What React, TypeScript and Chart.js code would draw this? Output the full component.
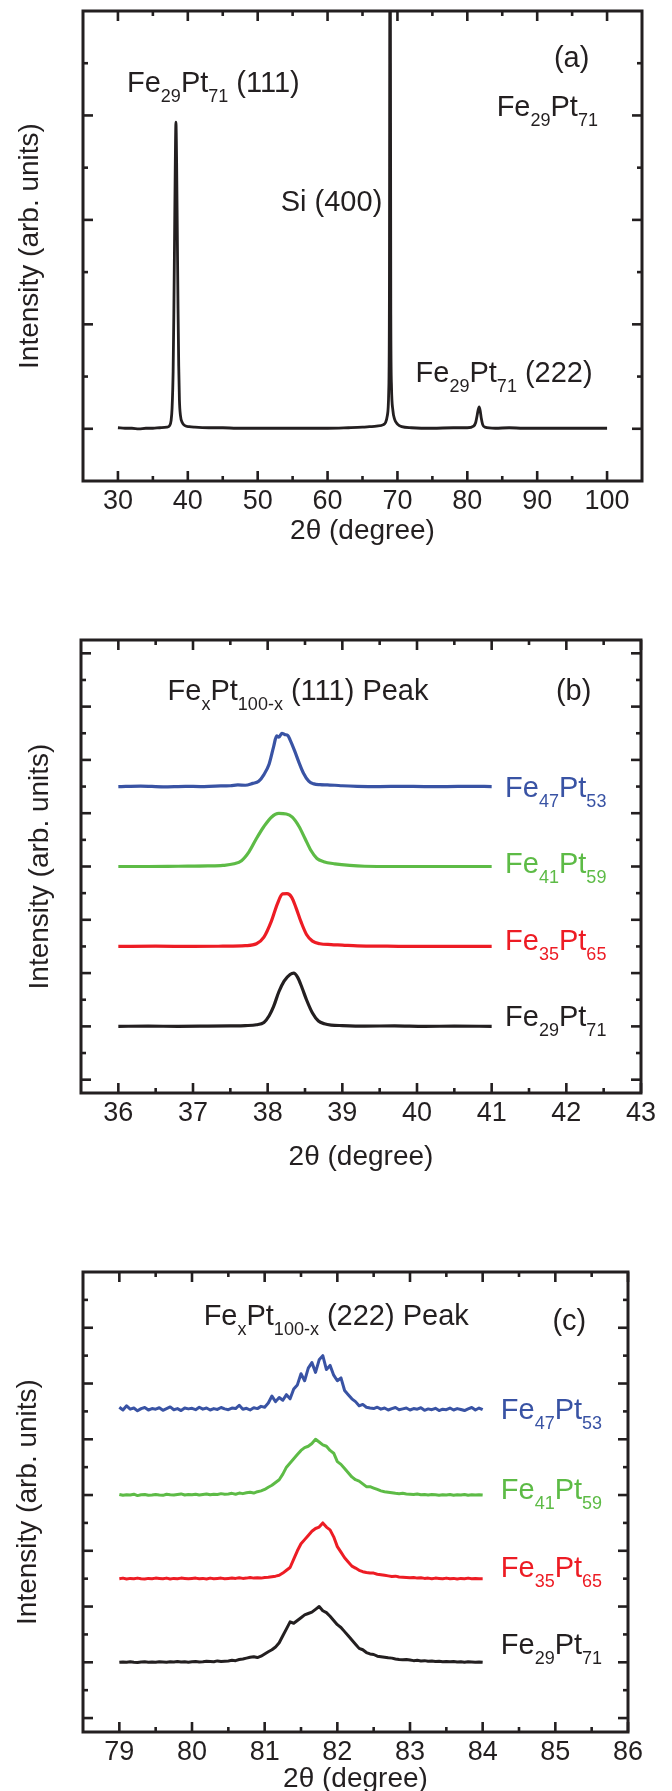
import React, { useEffect, useRef } from "react";
import { Chart, registerables } from "chart.js";

Chart.register(...registerables);

const FONT = "'Liberation Sans', Arial, Helvetica, sans-serif";
const INK = "#231f20";
const BLUE = "#3953a4";
const GREEN = "#5dbb46";
const RED = "#ed1c24";
const BLACK = "#231f20";

// ---------- Panel (a): full scan of Fe29Pt71 ----------
const scanA: [number, number][] = [
  [30, 0.02], [31, 0.01], [32, 0.01], [33, 0.0], [34, 0.01], [35, 0.01], [36, 0.02], [37, 0.03],
  [37.4, 0.06], [37.6, 0.15], [37.75, 0.4], [37.9, 1.1], [38.0, 2.2], [38.1, 3.6], [38.2, 5.0],
  [38.3, 5.87], [38.4, 5.1], [38.5, 3.7], [38.6, 2.3], [38.7, 1.2], [38.8, 0.55], [38.95, 0.25],
  [39.2, 0.12], [39.6, 0.06], [40.2, 0.04], [41, 0.03], [43, 0.02], [45, 0.02], [47, 0.01],
  [50, 0.01], [55, 0.01], [60, 0.01], [63, 0.02], [65, 0.03], [66, 0.04], [67, 0.05], [68, 0.08],
  [68.3, 0.12], [68.55, 0.25], [68.75, 0.7], [68.85, 2.5], [68.95, 12], [69.05, 2.2], [69.15, 0.8],
  [69.35, 0.35], [69.6, 0.18], [70, 0.09], [70.6, 0.04], [72, 0.02], [75, 0.01], [78, 0.02],
  [80, 0.02], [80.9, 0.05], [81.2, 0.12], [81.4, 0.25], [81.55, 0.36], [81.7, 0.42], [81.85, 0.34],
  [82.0, 0.2], [82.2, 0.08], [82.5, 0.03], [84, 0.01], [86, 0.02], [88, 0.01], [90, 0.01],
  [93, 0.01], [96, 0.01], [100, 0.01],
];

// ---------- Panel (b): (111) peak ----------
const peak111Fe47: [number, number][] = [
  [36.0, 11.0], [36.3, 11.02], [36.6, 10.99], [36.9, 11.01], [37.1, 11.0], [37.3, 11.02], [37.5, 11.03],
  [37.6, 11.06], [37.7, 11.05], [37.8, 11.12], [37.88, 11.2], [37.95, 11.45], [38.02, 11.85],
  [38.08, 12.5], [38.12, 12.9], [38.15, 12.85], [38.19, 13.0], [38.23, 12.95], [38.27, 12.92],
  [38.3, 12.75], [38.36, 12.35], [38.42, 11.9], [38.48, 11.5], [38.55, 11.2], [38.62, 11.1],
  [38.7, 11.07], [38.8, 11.06], [38.9, 11.05], [39.0, 11.03], [39.2, 11.01], [39.5, 11.0],
  [39.8, 11.01], [40.1, 11.0], [40.4, 11.0], [40.7, 11.01], [41.0, 11.0],
];
const peak111Fe41: [number, number][] = [
  [36.0, 8.0], [36.4, 8.0], [36.8, 8.01], [37.2, 8.02], [37.4, 8.04], [37.55, 8.1], [37.65, 8.22],
  [37.75, 8.55], [37.85, 9.05], [37.95, 9.5], [38.05, 9.85], [38.15, 9.99], [38.25, 9.97],
  [38.33, 9.85], [38.42, 9.5], [38.5, 9.05], [38.58, 8.6], [38.66, 8.3], [38.75, 8.18],
  [38.9, 8.1], [39.1, 8.04], [39.3, 8.01], [39.7, 8.0], [40.2, 8.0], [40.6, 8.0], [41.0, 8.0],
];
const peak111Fe35: [number, number][] = [
  [36.0, 5.0], [36.5, 5.01], [37.0, 5.0], [37.4, 5.01], [37.7, 5.03], [37.85, 5.1], [37.95, 5.35],
  [38.05, 5.95], [38.13, 6.6], [38.2, 6.97], [38.26, 6.98], [38.32, 6.85], [38.38, 6.45],
  [38.45, 5.9], [38.52, 5.45], [38.6, 5.2], [38.7, 5.1], [38.85, 5.07], [39.0, 5.05], [39.2, 5.02],
  [39.6, 5.01], [40.0, 5.0], [40.5, 5.0], [41.0, 5.0],
];
const peak111Fe29: [number, number][] = [
  [36.0, 2.0], [36.4, 2.01], [36.8, 2.0], [37.2, 2.01], [37.5, 2.02], [37.7, 2.03], [37.85, 2.06],
  [37.95, 2.15], [38.02, 2.4], [38.08, 2.75], [38.15, 3.3], [38.22, 3.7], [38.3, 3.95], [38.35, 4.0],
  [38.4, 3.85], [38.46, 3.45], [38.52, 3.0], [38.6, 2.5], [38.68, 2.2], [38.76, 2.1], [38.85, 2.05],
  [39.0, 2.03], [39.3, 2.01], [39.7, 2.02], [40.1, 2.0], [40.5, 2.01], [41.0, 2.0],
];

// ---------- Panel (c): (222) peak ----------
const thetaC = [
  79, 79.05, 79.1, 79.15, 79.2, 79.25, 79.3, 79.35, 79.4, 79.45,
  79.5, 79.55, 79.6, 79.65, 79.7, 79.75, 79.8, 79.85, 79.9, 79.95,
  80, 80.05, 80.1, 80.15, 80.2, 80.25, 80.3, 80.35, 80.4, 80.45,
  80.5, 80.55, 80.6, 80.65, 80.7, 80.75, 80.8, 80.85, 80.9, 80.95,
  81, 81.05, 81.1, 81.15, 81.2, 81.25, 81.3, 81.35, 81.4, 81.45,
  81.5, 81.55, 81.6, 81.65, 81.7, 81.75, 81.8, 81.85, 81.9, 81.95,
  82, 82.05, 82.1, 82.15, 82.2, 82.25, 82.3, 82.35, 82.4, 82.45,
  82.5, 82.55, 82.6, 82.65, 82.7, 82.75, 82.8, 82.85, 82.9, 82.95,
  83, 83.05, 83.1, 83.15, 83.2, 83.25, 83.3, 83.35, 83.4, 83.45,
  83.5, 83.55, 83.6, 83.65, 83.7, 83.75, 83.8, 83.85, 83.9, 83.95,
  84,
];
const peak222Fe47 = [
  11.15, 11.05, 11.2, 11.08, 11.12, 11.02, 11.1, 11.14, 11.05, 11.1,
  11.08, 11.13, 11.04, 11.1, 11.16, 11.06, 11.1, 11.03, 11.12, 11.09,
  11.11, 11.06, 11.15, 11.08, 11.12, 11.05, 11.1, 11.07, 11.14, 11.09,
  11.06, 11.12, 11.1, 11.22, 11.08, 11.11, 11.05, 11.13, 11.1, 11.18,
  11.15, 11.3, 11.55, 11.35, 11.5, 11.4, 11.6, 11.45, 11.8, 11.95,
  12.35, 12.1, 12.55, 12.75, 12.4, 12.85, 13.0, 12.5, 12.65, 12.3,
  12.1, 12.2, 11.75, 11.6, 11.45, 11.35, 11.2, 11.25, 11.15, 11.12,
  11.1, 11.15, 11.08, 11.12, 11.05, 11.1, 11.14, 11.06, 11.09, 11.12,
  11.05, 11.1, 11.08, 11.13, 11.04, 11.09, 11.06, 11.11, 11.03, 11.08,
  11.06, 11.12, 11.05, 11.1, 11.07, 11.03, 11.09, 11.14, 11.05, 11.12,
  11.06,
];
const peak222Fe41 = [
  8.02, 7.99, 8.01, 8.0, 8.03, 7.98, 8.01, 8.02, 7.99, 8.0,
  8.02, 8.0, 7.99, 8.03, 8.01, 8.0, 8.02, 8.04, 8.0, 8.02,
  8.01, 8.03, 8.0, 8.02, 8.04, 8.01, 8.03, 8.02, 8.05, 8.03,
  8.04, 8.06, 8.03, 8.07, 8.05, 8.08, 8.1, 8.07, 8.12, 8.15,
  8.2, 8.28, 8.35, 8.45, 8.55, 8.75, 9.0, 9.15, 9.3, 9.45,
  9.6, 9.7, 9.75, 9.85, 10.0, 9.9, 9.8, 9.75, 9.6, 9.5,
  9.2, 9.1, 8.95, 8.8, 8.65, 8.55, 8.5, 8.4, 8.3, 8.3,
  8.25, 8.2, 8.15, 8.12, 8.1, 8.08, 8.06, 8.05, 8.06, 8.04,
  8.03, 8.02, 8.04, 8.01, 8.02, 8.0, 8.02, 8.01, 7.99, 8.01,
  8.0, 8.02, 7.99, 8.01, 8.0, 8.02, 7.99, 8.01, 8.0, 8.01,
  8.0,
];
const peak222Fe35 = [
  5.0, 5.02, 4.99, 5.01, 5.0, 5.02, 5.0, 4.99, 5.01, 5.0,
  5.02, 5.01, 5.0, 5.02, 4.99, 5.01, 5.0, 5.02, 5.01, 5.0,
  5.01, 5.02, 5.0, 5.01, 4.99, 5.02, 5.0, 5.01, 5.02, 5.0,
  5.01, 5.02, 5.01, 5.03, 5.01, 5.02, 5.04, 5.02, 5.03, 5.02,
  5.04, 5.05, 5.07, 5.09, 5.12, 5.2, 5.3, 5.4, 5.7, 6.0,
  6.25, 6.4, 6.55, 6.7, 6.8, 6.85, 7.0, 6.85, 6.75, 6.5,
  6.15, 5.95, 5.75, 5.6, 5.45, 5.38, 5.3, 5.25, 5.22, 5.2,
  5.2, 5.16, 5.14, 5.12, 5.1, 5.08, 5.09, 5.06, 5.05, 5.04,
  5.03, 5.04, 5.02, 5.03, 5.01, 5.02, 5.0, 5.02, 5.01, 5.0,
  5.02, 5.0, 5.01, 4.99, 5.01, 5.0, 5.02, 5.0, 5.01, 5.0,
  5.0,
];
const peak222Fe29 = [
  2.0, 2.01, 2.0, 2.02, 2.0, 1.99, 2.01, 2.02, 2.0, 2.01,
  2.0, 2.02, 2.01, 2.0, 2.02, 2.01, 2.03, 2.01, 2.02, 2.0,
  2.02, 2.03, 2.01, 2.02, 2.04, 2.03, 2.02, 2.05, 2.03, 2.04,
  2.05, 2.07, 2.06, 2.1, 2.12, 2.15, 2.18, 2.2, 2.17, 2.22,
  2.3, 2.38, 2.45, 2.55, 2.7, 2.95, 3.2, 3.45, 3.4, 3.5,
  3.6, 3.7, 3.75, 3.8, 3.9, 4.0, 3.85, 3.78, 3.65, 3.5,
  3.35, 3.25, 3.1, 2.95, 2.8, 2.65, 2.5, 2.45, 2.35, 2.3,
  2.28, 2.22, 2.2, 2.18, 2.16, 2.15, 2.12, 2.1, 2.09, 2.1,
  2.08, 2.06, 2.07, 2.05, 2.06, 2.04, 2.05, 2.03, 2.04, 2.02,
  2.03, 2.02, 2.03, 2.01, 2.02, 2.0, 2.02, 2.01, 2.0, 2.01,
  2.0,
];

// ---------- tick values ----------
const xMajorA = [30, 40, 50, 60, 70, 80, 90, 100];
const xMinorA = [35, 45, 55, 65, 75, 85, 95];
const yMajorA = [0, 2, 4, 6];
const yMinorA = [1, 3, 5, 7];
const xMajorB = [36, 37, 38, 39, 40, 41, 42, 43];
const xMinorB = [36.5, 37.5, 38.5, 39.5, 40.5, 41.5, 42.5];
const yMajorB = [0, 2, 4, 6, 8, 10, 12, 14, 16];
const yMinorBC = [1, 3, 5, 7, 9, 11, 13, 15];
const yMajorC = [0, 2, 4, 6, 8, 10, 12, 14];
const xMajorC = [79, 80, 81, 82, 83, 84, 85, 86];
const xMinorC = [79.5, 80.5, 81.5, 82.5, 83.5, 84.5, 85.5];

type Seg = [string, number?];
interface Note { x: number; y: number; segs: Seg[]; color: string; }

const sample = (a: string, b: string): Seg[] => [["Fe"], [a, 1], ["Pt"], [b, 1]];

interface Spec {
  H: number;
  area: { left: number; right: number; top: number; bottom: number };
  xMin: number; xMax: number; yMin: number; yMax: number;
  xMajor: number[]; xMinor: number[]; yMajor: number[]; yMinor: number[];
  xTitlePad: number; yTitlePad: number;
  datasets: any[];
  notes: Note[];
}

const MAIN_SIZE = 29;
const SUB_SIZE = 18;

function makeFramePlugin(spec: Spec) {
  return {
    id: "xrdFrame",
    afterDatasetsDraw(chart: any) {
      const { ctx, chartArea: a, scales } = chart;
      const xs = scales.x;
      const ys = scales.y;
      ctx.save();
      ctx.strokeStyle = INK;
      ctx.lineCap = "butt";
      ctx.lineWidth = 2.6;
      const seg = (x1: number, y1: number, x2: number, y2: number) => {
        ctx.beginPath();
        ctx.moveTo(x1, y1);
        ctx.lineTo(x2, y2);
        ctx.stroke();
      };
      const groupsX: [number[], number][] = [[spec.xMajor, 10], [spec.xMinor, 5]];
      for (const [vals, len] of groupsX) {
        for (const v of vals) {
          const px = xs.getPixelForValue(v);
          seg(px, a.bottom, px, a.bottom - len);
          seg(px, a.top, px, a.top + len);
        }
      }
      const groupsY: [number[], number][] = [[spec.yMajor, 10], [spec.yMinor, 5]];
      for (const [vals, len] of groupsY) {
        for (const v of vals) {
          const py = ys.getPixelForValue(v);
          seg(a.left, py, a.left + len, py);
          seg(a.right, py, a.right - len, py);
        }
      }
      ctx.lineWidth = 3;
      ctx.strokeRect(a.left, a.top, a.right - a.left, a.bottom - a.top);

      ctx.textAlign = "left";
      ctx.textBaseline = "alphabetic";
      for (const n of spec.notes) {
        let px = xs.getPixelForValue(n.x);
        const py = ys.getPixelForValue(n.y);
        ctx.fillStyle = n.color;
        for (const [t, sub] of n.segs) {
          ctx.font = sub ? `${SUB_SIZE}px ${FONT}` : `${MAIN_SIZE}px ${FONT}`;
          ctx.fillText(t, px, sub ? py + 10 : py);
          px += ctx.measureText(t).width;
        }
      }
      ctx.restore();
    },
  };
}

function Panel({ spec }: { spec: Spec }) {
  const ref = useRef<HTMLCanvasElement>(null);
  useEffect(() => {
    const canvas = ref.current;
    if (!canvas) return;
    const a = spec.area;
    const chart = new Chart(canvas, {
      type: "line",
      data: { datasets: spec.datasets },
      options: {
        responsive: false,
        animation: false,
        events: [],
        layout: { padding: { top: a.top, right: 672 - a.right, left: 0, bottom: 0 } },
        elements: { point: { radius: 0 } },
        plugins: { legend: { display: false }, tooltip: { enabled: false }, title: { display: false } },
        scales: {
          x: {
            type: "linear",
            position: "bottom",
            min: spec.xMin,
            max: spec.xMax,
            afterBuildTicks: (s: any) => {
              s.ticks = spec.xMajor.map((v) => ({ value: v }));
            },
            ticks: {
              font: { family: FONT, size: 27 },
              color: INK,
              padding: 4,
              maxRotation: 0,
              autoSkip: false,
              callback: (v: any) => String(v),
            },
            grid: { display: false, drawTicks: false },
            border: { display: false },
            title: {
              display: true,
              text: "2θ (degree)",
              color: INK,
              font: { family: FONT, size: 28 },
              padding: { top: 0, bottom: spec.xTitlePad },
            },
            afterFit: (s: any) => {
              s.height = spec.H - a.bottom;
            },
          },
          y: {
            type: "linear",
            position: "left",
            min: spec.yMin,
            max: spec.yMax,
            ticks: { display: false },
            grid: { display: false, drawTicks: false },
            border: { display: false },
            title: {
              display: true,
              text: "Intensity (arb. units)",
              color: INK,
              font: { family: FONT, size: 28 },
              padding: { top: spec.yTitlePad, bottom: 0 },
            },
            afterFit: (s: any) => {
              s.width = a.left;
            },
          },
        },
      } as any,
      plugins: [makeFramePlugin(spec)],
    });
    return () => chart.destroy();
  }, [spec]);
  return <canvas ref={ref} width={672} height={spec.H} style={{ display: "block" }} />;
}

const line = (data: any[], color: string, width: number, tension: number) => ({
  data,
  borderColor: color,
  backgroundColor: color,
  borderWidth: width,
  pointRadius: 0,
  fill: false,
  tension,
  cubicInterpolationMode: tension > 0 ? "monotone" : "default",
  borderJoinStyle: "round",
  parsing: false,
});

const toPts = (pairs: [number, number][]) => pairs.map(([x, y]) => ({ x, y }));
const zipPts = (xs: number[], ys: number[]) => xs.map((x, i) => ({ x, y: ys[i] }));

const specA: Spec = {
  H: 560,
  area: { left: 83, right: 642, top: 11, bottom: 481 },
  xMin: 25, xMax: 105, yMin: -1, yMax: 8,
  xMajor: xMajorA, xMinor: xMinorA, yMajor: yMajorA, yMinor: yMinorA,
  xTitlePad: 12.3, yTitlePad: 13.3,
  datasets: [line(toPts(scanA), BLACK, 2.8, 0.3)],
  notes: [
    { x: 31.3, y: 6.45, segs: [...sample("29", "71"), [" (111)"]], color: INK },
    { x: 92.4, y: 6.93, segs: [["(a)"]], color: INK },
    { x: 84.2, y: 5.99, segs: sample("29", "71"), color: INK },
    { x: 53.3, y: 4.17, segs: [["Si (400)"]], color: INK },
    { x: 72.6, y: 0.9, segs: [...sample("29", "71"), [" (222)"]], color: INK },
  ],
};

const specB: Spec = {
  H: 620,
  area: { left: 81, right: 641, top: 80, bottom: 533 },
  xMin: 35.5, xMax: 43, yMin: -0.5, yMax: 16.5,
  xMajor: xMajorB, xMinor: xMinorB, yMajor: yMajorB, yMinor: yMinorBC,
  xTitlePad: 6.3, yTitlePad: 23.9,
  datasets: [
    line(toPts(peak111Fe47), BLUE, 3.2, 0.3),
    line(toPts(peak111Fe41), GREEN, 3.2, 0.3),
    line(toPts(peak111Fe35), RED, 3.2, 0.3),
    line(toPts(peak111Fe29), BLACK, 3.2, 0.3),
  ],
  notes: [
    { x: 36.66, y: 14.25, segs: [["Fe"], ["x", 1], ["Pt"], ["100-x", 1], [" (111) Peak"]], color: INK },
    { x: 41.86, y: 14.25, segs: [["(b)"]], color: INK },
    { x: 41.18, y: 10.6, segs: sample("47", "53"), color: BLUE },
    { x: 41.18, y: 7.75, segs: sample("41", "59"), color: GREEN },
    { x: 41.18, y: 4.87, segs: sample("35", "65"), color: RED },
    { x: 41.18, y: 2.0, segs: sample("29", "71"), color: BLACK },
  ],
};

const specC: Spec = {
  H: 611,
  area: { left: 83, right: 628, top: 92, bottom: 552 },
  xMin: 78.5, xMax: 86, yMin: -0.5, yMax: 16,
  xMajor: xMajorC, xMinor: xMinorC, yMajor: yMajorC, yMinor: yMinorBC,
  xTitlePad: -4.7, yTitlePad: 11.1,
  datasets: [
    line(zipPts(thetaC, peak222Fe47), BLUE, 3, 0),
    line(zipPts(thetaC, peak222Fe41), GREEN, 3, 0),
    line(zipPts(thetaC, peak222Fe35), RED, 3, 0),
    line(zipPts(thetaC, peak222Fe29), BLACK, 3, 0),
  ],
  notes: [
    { x: 80.16, y: 14.1, segs: [["Fe"], ["x", 1], ["Pt"], ["100-x", 1], [" (222) Peak"]], color: INK },
    { x: 84.96, y: 13.92, segs: [["(c)"]], color: INK },
    { x: 84.25, y: 10.72, segs: sample("47", "53"), color: BLUE },
    { x: 84.25, y: 7.87, segs: sample("41", "59"), color: GREEN },
    { x: 84.25, y: 5.07, segs: sample("35", "65"), color: RED },
    { x: 84.25, y: 2.28, segs: sample("29", "71"), color: BLACK },
  ],
};

export default function App() {
  return (
    <div style={{ position: "absolute", left: 0, top: 0, width: 672, height: 1791, overflow: "hidden", background: "#fff" }}>
      <Panel spec={specA} />
      <Panel spec={specB} />
      <Panel spec={specC} />
    </div>
  );
}
